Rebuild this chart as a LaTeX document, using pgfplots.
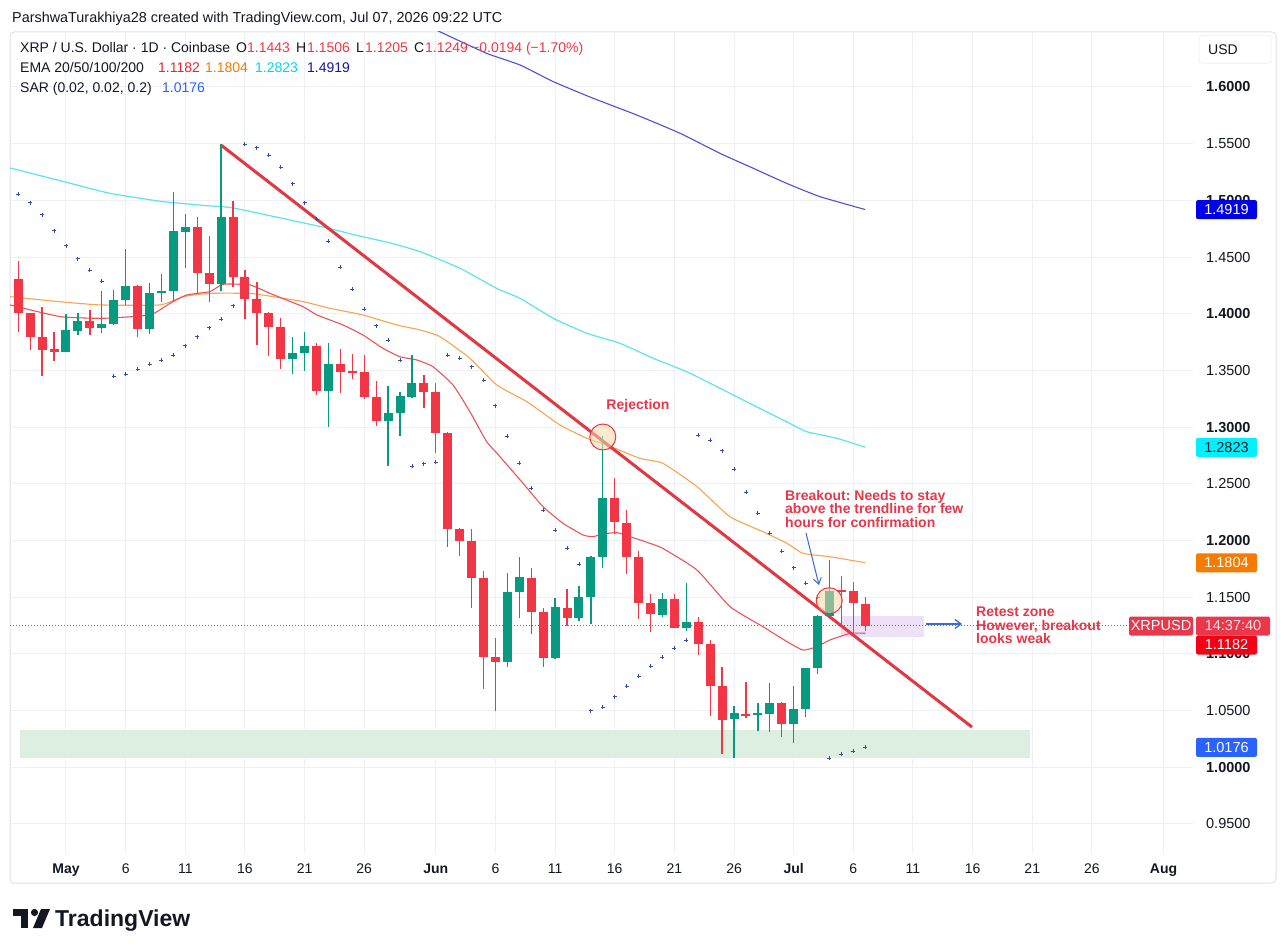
\documentclass[border=0pt]{standalone}
\usepackage{fontspec}
\setmainfont{Liberation Sans}
\usepackage{pgfplots}
\pgfplotsset{compat=1.18}
\usepackage{pgfplotstable}
\usetikzlibrary{arrows.meta}
\frenchspacing

\definecolor{tvgreen}{RGB}{8,153,129}
\definecolor{tvred}{RGB}{242,54,69}
\definecolor{ematw}{RGB}{236,84,88}
\definecolor{emafif}{RGB}{247,165,80}
\definecolor{emahun}{RGB}{90,228,238}
\definecolor{ematwo}{RGB}{80,80,212}
\definecolor{sarc}{RGB}{50,80,170}
\definecolor{trendc}{RGB}{226,56,66}
\definecolor{gridc}{RGB}{238,240,245}
\definecolor{tvtext}{RGB}{19,23,34}
\definecolor{annot}{RGB}{229,56,75}
\definecolor{zoneg}{RGB}{221,239,224}
\definecolor{zonep}{RGB}{238,224,246}
\definecolor{arrowc}{RGB}{60,105,220}
\definecolor{boxblue}{RGB}{0,0,235}
\definecolor{boxcyan}{RGB}{0,240,255}
\definecolor{boxorange}{RGB}{245,124,0}
\definecolor{boxred}{RGB}{242,0,20}
\definecolor{boxsar}{RGB}{41,98,255}
\definecolor{xrpred}{RGB}{233,56,76}
\definecolor{framec}{RGB}{224,227,235}
\definecolor{circfill}{RGB}{252,214,170}
\definecolor{lgred}{RGB}{230,40,50}
\definecolor{lgcyan}{RGB}{0,215,235}
\definecolor{lgnavy}{RGB}{20,20,170}

% day index: May 1 = 1, Jun 1 = 32, Jul 1 = 62, Aug 1 = 93
\pgfplotstableread{
d o h l c
1 1.3666 1.3995 1.3660 1.3857
2 1.3851 1.4004 1.3813 1.3936
4 1.3872 1.4201 1.3828 1.3907
5 1.3907 1.4210 1.3901 1.4122
6 1.4122 1.4568 1.4078 1.4245
8 1.3863 1.4269 1.3822 1.4180
9 1.4180 1.4351 1.4107 1.4201
10 1.4201 1.5071 1.4116 1.4733
11 1.4724 1.4877 1.4401 1.4763
14 1.4263 1.5497 1.4201 1.4851
20 1.3601 1.3792 1.3466 1.3651
21 1.3651 1.3842 1.3498 1.3718
23 1.3322 1.3745 1.3004 1.3557
28 1.3051 1.3363 1.2660 1.3127
29 1.3127 1.3313 1.2924 1.3274
30 1.3269 1.3636 1.3254 1.3386
38 1.0932 1.1717 1.0888 1.1549
39 1.1549 1.1858 1.1314 1.1676
42 1.0961 1.1490 1.0955 1.1411
44 1.1314 1.1602 1.1293 1.1499
45 1.1499 1.1867 1.1264 1.1852
46 1.1852 1.2922 1.1755 1.2372
51 1.1343 1.1540 1.1328 1.1484
53 1.1231 1.1628 1.1205 1.1284
57 1.0423 1.0543 1.0079 1.0476
59 1.0461 1.0570 1.0323 1.0476
60 1.0467 1.0746 1.0314 1.0570
62 1.0382 1.0717 1.0211 1.0514
63 1.0517 1.0880 1.0446 1.0873
64 1.0873 1.1340 1.0820 1.1337
65 1.1337 1.1828 1.1328 1.1558
}\greenc

\pgfplotstableread{
d o h l c
-3 1.4307 1.4466 1.3842 1.4004
-2 1.4004 1.4010 1.3681 1.3798
-1 1.3798 1.4063 1.3454 1.3681
0 1.3690 1.3842 1.3587 1.3666
3 1.3936 1.4033 1.3813 1.3872
7 1.4245 1.4254 1.3798 1.3863
12 1.4763 1.4851 1.4180 1.4363
13 1.4363 1.4686 1.4107 1.4263
15 1.4851 1.4995 1.4239 1.4327
16 1.4327 1.4386 1.3951 1.4127
17 1.4127 1.4283 1.3724 1.4004
18 1.4004 1.4018 1.3630 1.3886
19 1.3886 1.3959 1.3513 1.3601
22 1.3718 1.3739 1.3283 1.3322
24 1.3557 1.3686 1.3304 1.3483
25 1.3495 1.3642 1.3421 1.3483
26 1.3483 1.3636 1.3245 1.3269
27 1.3269 1.3407 1.3013 1.3051
31 1.3386 1.3460 1.3172 1.3307
32 1.3307 1.3386 1.2775 1.2951
33 1.2951 1.2960 1.1946 1.2102
34 1.2102 1.2110 1.1864 1.1993
35 1.1993 1.2102 1.1408 1.1673
36 1.1673 1.1734 1.0688 1.0970
37 1.0976 1.1137 1.0500 1.0932
40 1.1673 1.1761 1.1176 1.1367
41 1.1367 1.1402 1.0882 1.0961
43 1.1408 1.1570 1.1246 1.1320
47 1.2372 1.2549 1.2058 1.2161
48 1.2158 1.2269 1.1705 1.1852
49 1.1852 1.1911 1.1305 1.1452
50 1.1452 1.1525 1.1190 1.1349
52 1.1484 1.1525 1.1225 1.1231
54 1.1284 1.1323 1.0990 1.1087
55 1.1087 1.1123 1.0452 1.0717
56 1.0717 1.0882 1.0114 1.0417
58 1.0470 1.0755 1.0432 1.0452
61 1.0570 1.0579 1.0270 1.0382
66 1.1558 1.1687 1.1255 1.1555
67 1.1558 1.1637 1.1167 1.1446
68 1.1443 1.1506 1.1205 1.1249
}\redc

\pgfplotstableread{
d s
-3 1.5054
-2 1.4980
-1 1.4874
0 1.4733
1 1.4601
2 1.4486
3 1.4386
4 1.4289
5 1.3451
6 1.3466
7 1.3513
8 1.3554
9 1.3592
10 1.3634
11 1.3719
12 1.3798
13 1.3878
14 1.3951
15 1.4072
16 1.5497
17 1.5465
18 1.5398
19 1.5292
20 1.5145
21 1.4980
22 1.4833
23 1.4642
24 1.4409
25 1.4215
26 1.4042
27 1.3895
28 1.3768
29 1.3592
30 1.2657
31 1.2678
32 1.2692
33 1.3636
34 1.3607
35 1.3532
36 1.3416
37 1.3190
38 1.2922
39 1.2681
40 1.2461
41 1.2269
42 1.2093
43 1.1931
44 1.1790
45 1.0500
46 1.0529
47 1.0623
48 1.0717
49 1.0805
50 1.0893
51 1.0970
52 1.1049
53 1.1123
54 1.2931
55 1.2887
56 1.2790
57 1.2628
58 1.2425
59 1.2240
60 1.2063
61 1.1908
62 1.1761
63 1.1622
64 1.1499
65 1.0079
66 1.0117
67 1.0144
68 1.0176
}\sar

\tikzset{
  lg/.style={anchor=base west, inner sep=0pt, font=\fontsize{14}{16}\selectfont, text=tvtext},
  an/.style={anchor=base west, inner sep=0pt, font=\fontsize{14}{16}\selectfont\bfseries, text=annot},
  pbox/.style={inner sep=0pt, minimum width=61pt, minimum height=19pt, rounded corners=2pt, text=white, font=\fontsize{14.5}{16}\selectfont},
}
\pgfplotsset{
  candle/.style 2 args={only marks, mark=*, mark size=0pt, mark options={draw=none, fill=none}, forget plot,
    error bars/y dir=both, error bars/y explicit, error bars/error mark=none,
    error bars/error bar style={line width=#1, draw=#2}},
}

\begin{document}
\begin{tikzpicture}
\useasboundingbox (0pt,0pt) rectangle (1288pt,-952pt);
\fill[white] (0pt,0pt) rectangle (1288pt,-952pt);
\draw[framec, line width=1pt, rounded corners=4pt] (10pt,-32pt) rectangle (1276pt,-883pt);

\begin{axis}[
  at={(10pt,-853pt)}, anchor=south west,
  scale only axis, width=1183pt, height=821pt,
  xmin=-3.694, xmax=95.47, ymin=0.9244, ymax=1.6485,
  axis line style={draw=none},
  tick style={draw=none},
  major tick length=0pt,
  grid=major, major grid style={color=gridc, line width=1pt},
  xtick={1,6,11,16,21,26,32,37,42,47,52,57,62,67,72,77,82,87,93},
  xticklabels={\textbf{May},6,11,16,21,26,\textbf{Jun},6,11,16,21,26,\textbf{Jul},6,11,16,21,26,\textbf{Aug}},
  xticklabel style={anchor=base, inner sep=0pt, yshift=-20pt, font=\fontsize{14}{16}\selectfont, text=tvtext},
  ytick={0.95,1.00,1.05,1.10,1.15,1.20,1.25,1.30,1.35,1.40,1.45,1.50,1.55,1.60},
  yticklabels={0.9500,\textbf{1.0000},1.0500,\textbf{1.1000},1.1500,\textbf{1.2000},1.2500,\textbf{1.3000},1.3500,\textbf{1.4000},1.4500,\textbf{1.5000},1.5500,\textbf{1.6000}},
  yticklabel pos=right,
  yticklabel style={anchor=west, inner sep=0pt, xshift=13pt, font=\fontsize{14.5}{16}\selectfont, text=tvtext},
  clip mode=individual,
]
% support zone
\addplot[fill=zoneg, draw=none, forget plot] coordinates {(-2.86,1.0082) (81.8,1.0082) (81.8,1.0329) (-2.86,1.0329)} -- cycle;
% retest zone
\addplot[fill=zonep, draw=none, forget plot] coordinates {(66.0,1.1146) (72.9,1.1146) (72.9,1.1334) (66.0,1.1334)} -- cycle;
% current price line
\addplot[xrpred, dotted, line width=1pt, forget plot] coordinates {(-3.694,1.1249) (95.47,1.1249)};

% EMA 200
\addplot[ematwo, line width=1.1pt, smooth, tension=0.3, forget plot] coordinates {
(27.32,1.675) (32.21,1.6494) (36.26,1.6297) (39.06,1.6194) (41.85,1.6047) (45.20,1.5900)
(48.84,1.5753) (52.47,1.5592) (55.82,1.5415) (58.61,1.5283) (61.41,1.5150) (64.20,1.5033) (68,1.4919)};
% EMA 100
\addplot[emahun, line width=1.2pt, smooth, tension=0.3, forget plot] coordinates {
(-3.69,1.5286) (1.34,1.5151) (4.69,1.5062) (9.13,1.4989) (13.07,1.4951) (15.17,1.4930) (22.96,1.4754)
(25.22,1.4695) (28.16,1.4625) (30.67,1.4548) (34.03,1.4401) (37.10,1.4224) (39.06,1.4136) (41.85,1.3960)
(44.65,1.3828) (47.44,1.3739) (50.23,1.3607) (53.03,1.3489) (55.82,1.3343) (58.61,1.3194) (61.41,1.3047)
(63.09,1.2960) (65.60,1.2902) (68,1.2823)};
% EMA 50
\addplot[emafif, line width=1.1pt, smooth, tension=0.3, forget plot] coordinates {
(-3.69,1.4151) (0.08,1.4110) (3.85,1.4078) (8.88,1.4078) (10.81,1.4151) (13.07,1.4180) (16.42,1.4180)
(17.51,1.4165) (20.87,1.4107) (23.13,1.4048) (25.90,1.3989) (28.75,1.3901) (30.67,1.3857) (32.35,1.3798)
(34.86,1.3607) (37.10,1.3372) (39.62,1.3225) (42.41,1.3019) (44.65,1.2902) (46.32,1.2843) (49.11,1.2725)
(51.04,1.2681) (53.89,1.2475) (56.66,1.2210) (59.42,1.2078) (61.44,1.1975) (62.78,1.1887) (65.04,1.1857) (68,1.1804)};
% EMA 20
\addplot[ematw, line width=1.1pt, smooth, tension=0.3, forget plot] coordinates {
(-3.69,1.4078) (0.50,1.3975) (4.10,1.3960) (8.04,1.3990) (9.72,1.4092) (11.14,1.4166) (13.07,1.4195)
(14.16,1.4260) (16.42,1.4254) (18.10,1.4180) (20.87,1.4062) (22.04,1.3989) (24.22,1.3901) (25.90,1.3812)
(27.57,1.3695) (29.00,1.3621) (30.42,1.3592) (31.76,1.3533) (33.44,1.3372) (34.86,1.3136) (36.26,1.2872)
(37.13,1.2769) (39.31,1.2505) (40.98,1.2299) (42.66,1.2152) (44.34,1.2049) (45.17,1.2034) (46.01,1.2058)
(47.19,1.2069) (48.28,1.2034) (49.95,1.1975) (51.04,1.1930) (53.89,1.1740) (56.66,1.1417) (59.42,1.1240)
(61.44,1.1108) (62.78,1.1034) (63.95,1.1064) (65.04,1.1123) (66.72,1.1181) (68,1.1182)};

% trendline
\addplot[trendc, line width=3pt, forget plot] coordinates {(13.99,1.5488) (76.94,1.0355)};

% wicks
\addplot[candle={1.3pt}{tvgreen}]
  table[x=d, y expr={(\thisrow{h}+\thisrow{l})/2}, y error expr={(\thisrow{h}-\thisrow{l})/2}] {\greenc};
\addplot[candle={1.3pt}{tvred}]
  table[x=d, y expr={(\thisrow{h}+\thisrow{l})/2}, y error expr={(\thisrow{h}-\thisrow{l})/2}] {\redc};
% bodies
\addplot[candle={9pt}{tvgreen}]
  table[x=d, y expr={(\thisrow{o}+\thisrow{c})/2}, y error expr={max(abs(\thisrow{c}-\thisrow{o})/2,0.0006)}] {\greenc};
\addplot[candle={9pt}{tvred}]
  table[x=d, y expr={(\thisrow{o}+\thisrow{c})/2}, y error expr={max(abs(\thisrow{c}-\thisrow{o})/2,0.0006)}] {\redc};

% parabolic SAR
\addplot[only marks, mark=+, mark size=2pt, sarc, mark options={line width=0.9pt}, forget plot]
  table[x=d, y=s] {\sar};

% highlight circles
\addplot[only marks, mark=*, mark size=13pt, forget plot,
  mark options={fill=circfill, fill opacity=0.55, draw=trendc, draw opacity=1, line width=1pt}]
  coordinates {(46.0,1.2913) (64.98,1.1469)};

\end{axis}

\begin{scope}[x=1pt, y=-1pt]
% header
\node[lg, font=\fontsize{14.4}{16}\selectfont] at (12,23) {ParshwaTurakhiya28 created with TradingView.com, Jul 07, 2026 09:22 UTC};
% legend
\node[lg] at (20,53) {XRP / U.S. Dollar · 1D · Coinbase};
\node[lg] at (236,53) {O};
\node[lg, text=tvred] at (247,53) {1.1443};
\node[lg] at (296,53) {H};
\node[lg, text=tvred] at (307,53) {1.1506};
\node[lg] at (356,53) {L};
\node[lg, text=tvred] at (365,53) {1.1205};
\node[lg] at (414,53) {C};
\node[lg, text=tvred] at (425,53) {1.1249};
\node[lg, text=tvred] at (471,53) {−0.0194 (−1.70\%)};
\node[lg] at (20,73) {EMA 20/50/100/200};
\node[lg, text=lgred] at (158,73) {1.1182};
\node[lg, text=boxorange] at (205,73) {1.1804};
\node[lg, text=lgcyan] at (255,73) {1.2823};
\node[lg, text=lgnavy] at (307,73) {1.4919};
\node[lg] at (20,93) {SAR (0.02, 0.02, 0.2)};
\node[lg, text=boxsar] at (162,93) {1.0176};

% annotations
\node[an, anchor=base] at (638,409) {Rejection};
\node[an] at (785,500) {Breakout: Needs to stay};
\node[an] at (785,513.5) {above the trendline for few};
\node[an] at (785,527) {hours for confirmation};
\node[an] at (976,616) {Retest zone};
\node[an] at (976,630) {However, breakout};
\node[an] at (976,643) {looks weak};
\draw[arrowc, line width=1pt, -{Straight Barb[length=6pt,width=8pt]}] (806,533) -- (819,585);
\draw[arrowc, line width=1.3pt, -{Straight Barb[length=6pt,width=9pt]}] (926,624) -- (962,624);

% price scale boxes
\node[draw=framec, rounded corners=3pt, minimum width=72pt, minimum height=28pt, anchor=north west, inner sep=0pt] at (1199,35) {};
\node[lg, font=\fontsize{14}{16}\selectfont] at (1208,55) {USD};
\node[pbox, fill=boxblue] at (1226.5,209.6) {1.4919};
\node[pbox, fill=boxcyan, text=tvtext] at (1226.5,447.3) {1.2823};
\node[pbox, fill=boxorange] at (1226.5,562.8) {1.1804};
\node[pbox, fill=xrpred, minimum width=64pt] at (1161,626) {XRPUSD};
\node[pbox, fill=xrpred, minimum width=74pt, text=white!90!red] at (1233,626) {14:37:40};
\node[pbox, fill=boxred] at (1226.5,645) {1.1182};
\node[pbox, fill=boxsar] at (1226.5,747.4) {1.0176};

% logo
\fill[tvtext] (13,909) rectangle (28,915.5);
\fill[tvtext] (21,909) rectangle (28,928);
\fill[tvtext] (34.5,912.5) circle (3.6);
\fill[tvtext] (41,909) -- (50,909) -- (42,928) -- (33,928) -- cycle;
\node[anchor=base west, inner sep=0pt, font=\fontsize{23}{26}\selectfont\bfseries, text=tvtext] at (55,926) {TradingView};
\end{scope}
\end{tikzpicture}
\end{document}
